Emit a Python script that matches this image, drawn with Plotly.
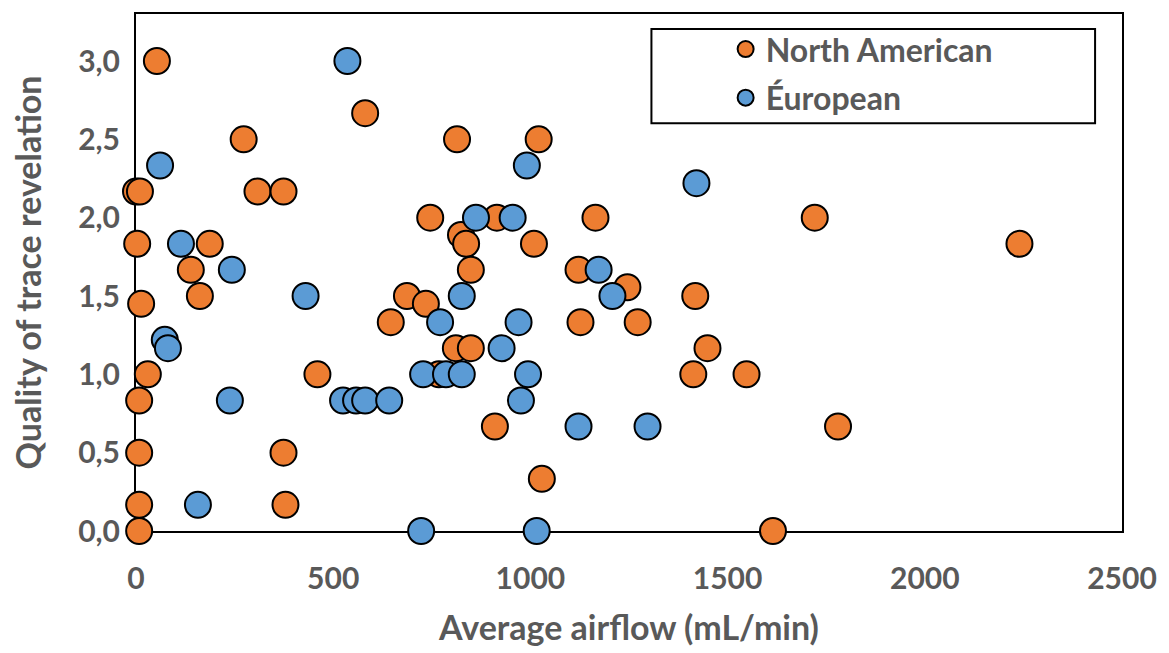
import plotly.graph_objects as go

# North American series
na_x = [53, 581, 273, 814, 1021, 0, 10, 308, 374, 3, 187, 139, 162, 13, 30, 8, 8, 8, 8,
        374, 379, 460, 746, 915, 1165, 824, 837, 1009, 849, 1122, 1246, 687, 735, 646,
        1127, 1272, 811, 849, 768, 910, 1029, 1721, 1418, 1449, 1413, 1548, 1780, 2240, 1615]
na_y = [3.0, 2.667, 2.5, 2.5, 2.5, 2.167, 2.167, 2.167, 2.167, 1.833, 1.833, 1.667, 1.5, 1.45,
        1.0, 0.833, 0.5, 0.167, 0.0, 0.5, 0.167, 1.0, 2.0, 2.0, 2.0, 1.89, 1.833, 1.833, 1.667,
        1.667, 1.556, 1.5, 1.45, 1.333, 1.333, 1.333, 1.167, 1.167, 1.0, 0.667, 0.333, 2.0,
        1.5, 1.167, 1.0, 1.0, 0.667, 1.833, 0.0]

# European series
eu_x = [536, 61, 991, 114, 862, 955, 1421, 243, 430, 826, 1208, 1173, 73, 81, 771, 970, 927,
        728, 786, 826, 994, 238, 525, 558, 581, 642, 976, 1122, 1297, 157, 723, 1016]
eu_y = [3.0, 2.333, 2.333, 1.833, 2.0, 2.0, 2.22, 1.667, 1.5, 1.5, 1.5, 1.667, 1.22, 1.167,
        1.333, 1.333, 1.167, 1.0, 1.0, 1.0, 1.0, 0.833, 0.833, 0.833, 0.833, 0.833, 0.833,
        0.667, 0.667, 0.167, 0.0, 0.0]

y_tickvals = [0, 0.5, 1.0, 1.5, 2.0, 2.5, 3.0]
y_ticktext = ["0,0", "0,5", "1,0", "1,5", "2,0", "2,5", "3,0"]
x_tickvals = [0, 500, 1000, 1500, 2000, 2500]

FONT = "Lato"
GRAY = "#595959"

fig = go.Figure()
fig.add_trace(go.Scatter(
    x=na_x, y=na_y, mode="markers", name="North American", legendgroup="na",
    marker=dict(size=26, color="#ED7D31", line=dict(color="black", width=2)),
    cliponaxis=False))
fig.add_trace(go.Scatter(
    x=eu_x, y=eu_y, mode="markers", name="Éuropean", legendgroup="eu",
    marker=dict(size=26, color="#5B9BD5", line=dict(color="black", width=2)),
    cliponaxis=False))

fig.update_layout(
    width=1169, height=653,
    margin=dict(l=136, r=44, t=12, b=121),
    plot_bgcolor="white", paper_bgcolor="white",
    font=dict(family=FONT, color=GRAY, size=30, weight="bold"),
    showlegend=True,
    legend=dict(x=0.598, y=0.985, xanchor="left", yanchor="top",
                bgcolor="rgba(0,0,0,0)", borderwidth=0,
                font=dict(family=FONT, size=32, color=GRAY, weight="bold"),
                traceorder="grouped", tracegroupgap=4, itemsizing="trace"),
    shapes=[dict(type="rect", xref="paper", yref="paper",
                 x0=(653 - 136) / 989, x1=(1098 - 136) / 989,
                 y0=(532 - 122) / 520, y1=(532 - 27) / 520,
                 line=dict(color="black", width=2), fillcolor="rgba(0,0,0,0)")],
)
fig.update_xaxes(
    range=[0, 2500], tickvals=x_tickvals, showgrid=False, zeroline=False,
    showline=True, linecolor="black", linewidth=2, mirror=True, layer="below traces",
    ticks="", ticklabelstandoff=20,
    tickfont=dict(family=FONT, size=30, color=GRAY, weight="bold"),
    title=dict(text="Average airflow (mL/min)", standoff=22,
               font=dict(family=FONT, size=34, color=GRAY, weight="bold")))
fig.update_yaxes(
    range=[0, 3.3], tickvals=y_tickvals, ticktext=y_ticktext, showgrid=False, zeroline=False,
    showline=True, linecolor="black", linewidth=2, mirror=True, layer="below traces",
    ticks="", ticklabelstandoff=8,
    tickfont=dict(family=FONT, size=30, color=GRAY, weight="bold"),
    title=dict(text="Quality of trace revelation", standoff=26,
               font=dict(family=FONT, size=34, color=GRAY, weight="bold")))

fig.write_html("out.html")
